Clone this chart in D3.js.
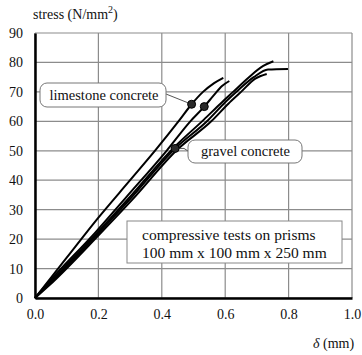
<!DOCTYPE html>
<html lang="en">
<head>
<meta charset="UTF-8">
<title>stress-strain</title>
<script src="https://cdn.jsdelivr.net/npm/d3@7"></script>
<style>
  body { margin: 0; background: #fff; }
  text { font-family: "Liberation Serif", "Times New Roman", serif; fill: #111; }
</style>
</head>
<body>
<script type="text/javascript">
    var width = 362;
    var height = 355;
    var xTicks = [0.0, 0.2, 0.4, 0.6, 0.8, 1.0];
    var yTicks = [0, 10, 20, 30, 40, 50, 60, 70, 80, 90];

    // limestone concrete curves [delta mm, stress N/mm2]
    var lime1 = [[0,0],[0.1,13.7],[0.2,27.3],[0.3,40],[0.38,50.2],[0.455,60.3],[0.494,65.8],[0.53,70],[0.565,73],[0.594,74.8]];
    var lime2 = [[0,0],[0.04,5],[0.19,22.2],[0.29,34.5],[0.415,50],[0.49,60],[0.534,65],[0.565,69],[0.59,72],[0.613,73.7]];
    // gravel concrete curves
    var grav1 = [[0,0],[0.04,4.5],[0.195,22],[0.295,33.8],[0.437,51],[0.532,60.5],[0.585,66],[0.625,70],[0.675,75],[0.72,78.8],[0.752,80.4]];
    var grav2 = [[0,0],[0.042,4.4],[0.2,22],[0.3,33.6],[0.442,50.8],[0.545,60.3],[0.60,66.5],[0.64,70.5],[0.69,75],[0.735,77.6],[0.798,77.8]];
    var grav3 = [[0,0],[0.045,4.3],[0.205,21.8],[0.307,33.4],[0.45,50.5],[0.556,60],[0.61,66],[0.65,70],[0.695,74.5],[0.731,76.1]];
    var curves = [lime1, lime2, grav1, grav2, grav3];
    var markers = [[0.494, 65.8], [0.534, 65.0], [0.442, 50.8]];

    var padding = {top: 33, right: 10, bottom: 57, left: 35};
    var svg = d3.select('body').append('svg')
            .attr('width', width)
            .attr('height', height);

    var xScale = d3.scaleLinear().domain([0, 1]).range([padding.left, width - padding.right]);
    var yScale = d3.scaleLinear().domain([0, 90]).range([height - padding.bottom, padding.top]);

    // grid
    svg.append("g").selectAll("line").data(xTicks).enter().append("line")
            .attr("x1", function (d) { return xScale(d); })
            .attr("x2", function (d) { return xScale(d); })
            .attr("y1", yScale(0)).attr("y2", yScale(90))
            .attr("stroke", "#8c8c8c").attr("stroke-width", 1.2);
    svg.append("g").selectAll("line").data(yTicks).enter().append("line")
            .attr("y1", function (d) { return yScale(d); })
            .attr("y2", function (d) { return yScale(d); })
            .attr("x1", xScale(0)).attr("x2", xScale(1))
            .attr("stroke", "#8c8c8c").attr("stroke-width", 1.2);

    // axes
    var xAxis = d3.axisBottom(xScale).tickValues(xTicks).tickSize(0).tickPadding(11)
            .tickFormat(d3.format(".1f"));
    var yAxis = d3.axisLeft(yScale).tickValues(yTicks).tickSize(0).tickPadding(12);
    var gx = svg.append("g").attr("transform", "translate(0," + yScale(0) + ")").call(xAxis);
    var gy = svg.append("g").attr("transform", "translate(" + xScale(0) + ",0)").call(yAxis);
    gx.attr("font-family", "Liberation Serif").attr("font-size", 14);
    gy.attr("font-family", "Liberation Serif").attr("font-size", 14);
    gx.select(".domain").attr("stroke", "#000").attr("stroke-width", 2.5);
    gy.select(".domain").attr("stroke", "#000").attr("stroke-width", 2.5);

    // curves
    var line = d3.line()
            .x(function (d) { return xScale(d[0]); })
            .y(function (d) { return yScale(d[1]); })
            .curve(d3.curveMonotoneX);
    svg.append("g").selectAll("path").data(curves).enter().append("path")
            .attr("d", line)
            .attr("fill", "none")
            .attr("stroke", "#000")
            .attr("stroke-width", 2);

    // leader lines
    svg.append("line").attr("x1", 166).attr("y1", 94)
            .attr("x2", xScale(markers[0][0])).attr("y2", yScale(markers[0][1]))
            .attr("stroke", "#555").attr("stroke-width", 1);
    svg.append("polyline")
            .attr("points", xScale(markers[2][0]) + "," + yScale(markers[2][1]) + " 184," + yScale(markers[2][1]) + " 188,151")
            .attr("fill", "none").attr("stroke", "#555").attr("stroke-width", 1);

    svg.append("g").selectAll("circle").data(markers).enter().append("circle")
            .attr("cx", function (d) { return xScale(d[0]); })
            .attr("cy", function (d) { return yScale(d[1]); })
            .attr("r", 4)
            .attr("fill", "#2a2a2a")
            .attr("stroke", "#000");

    // label boxes
    svg.append("rect").attr("x", 40).attr("y", 83).attr("width", 126).attr("height", 24)
            .attr("rx", 7).attr("fill", "#fff").attr("stroke", "#777").attr("stroke-width", 1);
    svg.append("text").attr("x", 104).attr("y", 100).attr("text-anchor", "middle")
            .attr("font-size", "14.5px").text("limestone concrete");

    svg.append("rect").attr("x", 188).attr("y", 140).attr("width", 114).attr("height", 23)
            .attr("rx", 7).attr("fill", "#fff").attr("stroke", "#777").attr("stroke-width", 1);
    svg.append("text").attr("x", 245.5).attr("y", 156).attr("text-anchor", "middle")
            .attr("font-size", "14.5px").text("gravel concrete");

    svg.append("rect").attr("x", 127).attr("y", 221).attr("width", 215).attr("height", 42)
            .attr("fill", "#fff").attr("stroke", "#888").attr("stroke-width", 1);
    svg.append("text").attr("x", 142).attr("y", 240)
            .attr("font-size", "15.5px").text("compressive tests on prisms");
    svg.append("text").attr("x", 142).attr("y", 258)
            .attr("font-size", "15.5px").text("100 mm x 100 mm x 250 mm");

    // axis titles
    var yt = svg.append("text").attr("x", 33).attr("y", 19).attr("font-size", "14px");
    yt.append("tspan").text("stress (N/mm");
    yt.append("tspan").attr("dy", -6).attr("font-size", "10px").text("2");
    yt.append("tspan").attr("dy", 6).text(")");

    var xt = svg.append("text").attr("x", 313).attr("y", 348).attr("font-size", "14px");
    xt.append("tspan").attr("font-style", "italic").text("δ");
    xt.append("tspan").text(" (mm)");
</script>
</body>
</html>
